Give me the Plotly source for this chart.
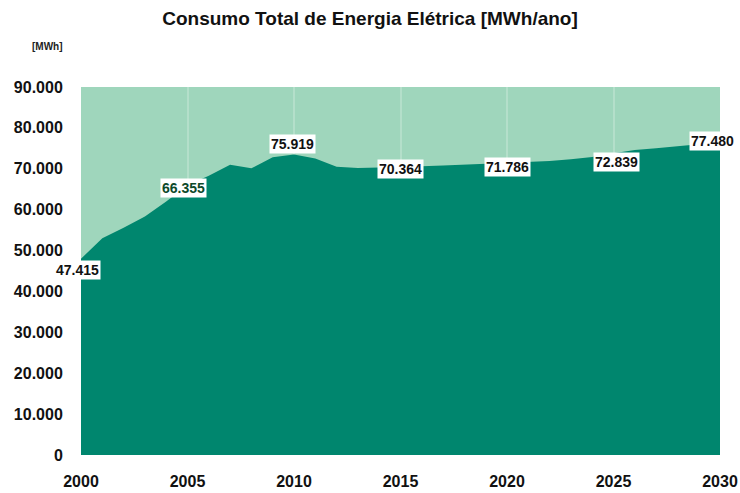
import plotly.graph_objects as go

# annual consumption
years = list(range(2000, 2031))
consumo = [
    48000, 53000, 55600, 58300, 62000, 66000, 68300, 71000, 70100, 72800,
    73500, 72500, 70500, 70200, 70300, 70400, 70600, 70800, 71000, 71200,
    71500, 71700, 71900, 72300, 72900, 73800, 74600, 75000, 75500, 76000,
    76100,
]

# labelled points
label_years = [2000, 2005, 2010, 2015, 2020, 2025, 2030]
label_text = ["47.415", "66.355", "75.919", "70.364", "71.786", "72.839", "77.480"]

DARK = "#00866e"
LIGHT = "#9fd6bc"
FONT = "Liberation Sans, Arial, sans-serif"

fig = go.Figure()
fig.add_trace(go.Scatter(
    x=years, y=consumo, mode="lines", fill="tozeroy",
    line=dict(width=0, color=DARK), fillcolor=DARK,
    hoverinfo="x+y", showlegend=False,
))

# label offsets in px (style, not data)
shifts = [(-4, -11), (-4, -3), (-2, 10), (0, -2), (0, -4), (3, -9), (-8, 3)]
colors = ["#111", "#0d4a2a", "#111", "#111", "#111", "#111", "#111"]
lookup = dict(zip(years, consumo))
for yr, txt, (dx, dy), c in zip(label_years, label_text, shifts, colors):
    fig.add_annotation(
        x=yr, y=lookup[yr], xref="x", yref="y", text=f"<b>{txt}</b>",
        showarrow=False, xshift=dx, yshift=dy, bgcolor="white", borderpad=1,
        font=dict(family=FONT, size=14, color=c),
    )

# [MWh] unit, placed in paper coords from pixel position
fig.add_annotation(
    x=(47 - 81) / (720 - 81), y=(455 - 47) / (455 - 87),
    xref="paper", yref="paper", xanchor="center", yanchor="middle",
    text="<b>[MWh]</b>", showarrow=False,
    font=dict(family=FONT, size=10, color="#222"),
)

fig.update_layout(
    width=740, height=493,
    margin=dict(l=81, r=20, t=87, b=38),
    paper_bgcolor="white", plot_bgcolor=LIGHT,
    separators=",.",
    title=dict(
        text="<b>Consumo Total de Energia Elétrica [MWh/ano]</b>",
        x=0.5, xanchor="center", y=1 - 18 / 493, yanchor="middle",
        font=dict(family=FONT, size=19, color="#111"),
        automargin=False,
    ),
    font=dict(family=FONT, color="#111"),
)
fig.update_xaxes(
    range=[2000, 2030], tickvals=list(range(2000, 2031, 5)),
    showgrid=True, gridcolor="rgba(255,255,255,0.22)", gridwidth=2,
    zeroline=False, showline=False, automargin=False,
    ticks="outside", ticklen=12, tickcolor="rgba(0,0,0,0)",
    tickfont=dict(family=FONT, size=16, color="#111", weight="bold"),
)
fig.update_yaxes(
    range=[0, 90000], tick0=0, dtick=10000, tickformat=",d",
    showgrid=False, zeroline=False, showline=False, automargin=False,
    ticks="outside", ticklen=14, tickcolor="rgba(0,0,0,0)",
    tickfont=dict(family=FONT, size=16, color="#111", weight="bold"),
)

# drop the default page margin so the figure sits at the window origin
fig.write_html(
    "out.html",
    config={"displayModeBar": False},
    post_script="document.body.style.margin='0';document.body.style.overflow='hidden';",
)
